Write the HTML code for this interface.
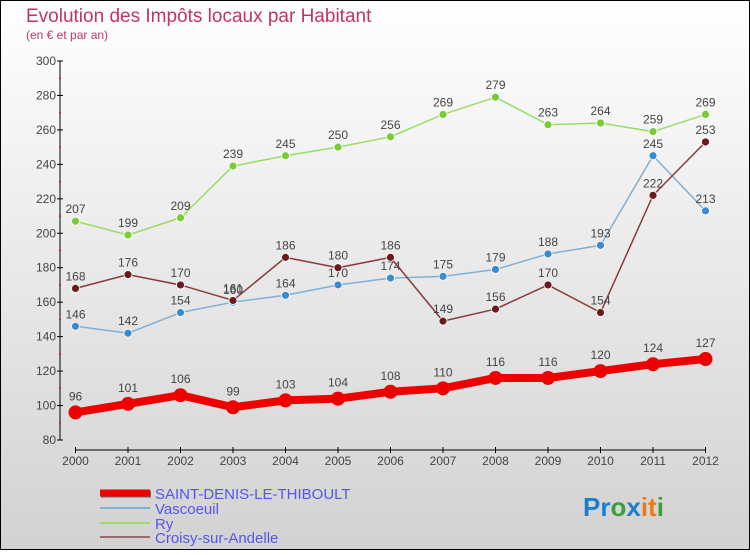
<!DOCTYPE html>
<html><head><meta charset="utf-8"><style>
body{margin:0;width:750px;height:550px;overflow:hidden;font-family:"Liberation Sans",sans-serif}
svg text{font-family:"Liberation Sans",sans-serif}
</style></head><body>
<svg id="chart" width="750" height="550" xmlns="http://www.w3.org/2000/svg">
<defs><linearGradient id="bg" x1="0" y1="0" x2="0" y2="1"><stop offset="0" stop-color="#ffffff"/><stop offset="1" stop-color="#d2d2d2"/></linearGradient></defs>
<rect x="0.5" y="0.5" width="749" height="549" fill="url(#bg)" stroke="#000"/>
<text x="26" y="22" font-size="19" fill="#c0365e">Evolution des Impôts locaux par Habitant</text>
<text x="26" y="39" font-size="12" fill="#c0365e">(en € et par an)</text>
<g id="axes"></g>
<g id="series"></g>
<g>
<line x1="101" y1="494" x2="151" y2="494" stroke="#666" stroke-width="7"/>
<line x1="100" y1="493" x2="150" y2="493" stroke="#e00" stroke-width="7"/>
<text x="155" y="499" font-size="15" fill="#5555ee">SAINT-DENIS-LE-THIBOULT</text>
<line x1="100" y1="508" x2="150" y2="508" stroke="#7fb0d8" stroke-width="2"/>
<text x="155" y="514" font-size="15" fill="#5555ee">Vascoeuil</text>
<line x1="100" y1="523" x2="150" y2="523" stroke="#99dd66" stroke-width="2"/>
<text x="155" y="529" font-size="15" fill="#5555ee">Ry</text>
<line x1="100" y1="537" x2="150" y2="537" stroke="#9a6a6a" stroke-width="2"/>
<text x="155" y="543" font-size="15" fill="#5555ee">Croisy-sur-Andelle</text>
</g>
<text x="583" y="516" font-size="26" font-weight="bold"><tspan fill="#1a7fd0">Pr</tspan><tspan fill="#3aa03a">o</tspan><tspan fill="#1a7fd0">x</tspan><tspan fill="#f07a10">it</tspan><tspan fill="#3aa03a">i</tspan></text>
</svg>
<script>
const years=[2000,2001,2002,2003,2004,2005,2006,2007,2008,2009,2010,2011,2012];
const saintDenis=[96,101,106,99,103,104,108,110,116,116,120,124,127];
const vascoeuil=[146,142,154,160,164,170,174,175,179,188,193,245,213];
const ry=[207,199,209,239,245,250,256,269,279,263,264,259,269];
const croisy=[168,176,170,161,186,180,186,149,156,170,154,222,253];
const yTicks=[80,100,120,140,160,180,200,220,240,260,280,300];
const NS="http://www.w3.org/2000/svg";
const x=i=>75.5+i*52.5;
const y=v=>440-(v-80)*379/220;
function mk(t,a,p){const e=document.createElementNS(NS,t);for(const k in a)e.setAttribute(k,a[k]);p.appendChild(e);return e;}
const ax=document.getElementById('axes');
let e=mk('line',{x1:60,y1:y(300),x2:60,y2:y(80),stroke:'#000'},ax);


e=mk('line',{x1:x(0),y1:450,x2:x(12),y2:450,stroke:'#000'},ax);


yTicks.forEach((v,i)=>{
 mk('line',{x1:57,y1:y(v),x2:63,y2:y(v),stroke:'#000'},ax);
 if(i<yTicks.length-1)mk('line',{x1:59,y1:y(v+10),x2:61,y2:y(v+10),stroke:'#e00'},ax);
 const t=mk('text',{x:56,y:y(v)+4,'font-size':12,'text-anchor':'end',fill:'#444'},ax);t.textContent=v;
 
 
});
years.forEach((yr,i)=>{
 mk('line',{x1:x(i),y1:447,x2:x(i),y2:453,stroke:'#000'},ax);
 const t=mk('text',{x:x(i),y:465,'font-size':12,'text-anchor':'middle',fill:'#444'},ax);t.textContent=yr;
 
 
});
const sg=document.getElementById('series');
function series(vals,color,dot,w,r,name,off){
 const g=mk('g',{},sg);
 
 
 const pl=mk('polyline',{points:vals.map((v,i)=>x(i)+','+y(v)).join(' '),fill:'none',stroke:color,'stroke-width':w,'stroke-linejoin':'round'},g);
 
 
 vals.forEach((v,i)=>{
  const c=mk('circle',{cx:x(i),cy:y(v),r:r,fill:dot,stroke:'#fff','stroke-width':w>3?0:0.8},g);
  
  
  const t=mk('text',{x:x(i),y:y(v)-off,'font-size':12,'text-anchor':'middle',fill:'#444'},g);t.textContent=v;
  
  
 });
}
series(ry,'#99dd66','#77cc33',1.5,4,'ry',8);
series(vascoeuil,'#7fb0d8','#3a8ad0',1.5,4,'vascoeuil',8);
series(croisy,'#8a3a3a','#6a1a1a',1.5,4,'croisy',8);
series(saintDenis,'#ee0000','#ee0000',8,7,'saint-denis',12);
</script>
</body></html>
